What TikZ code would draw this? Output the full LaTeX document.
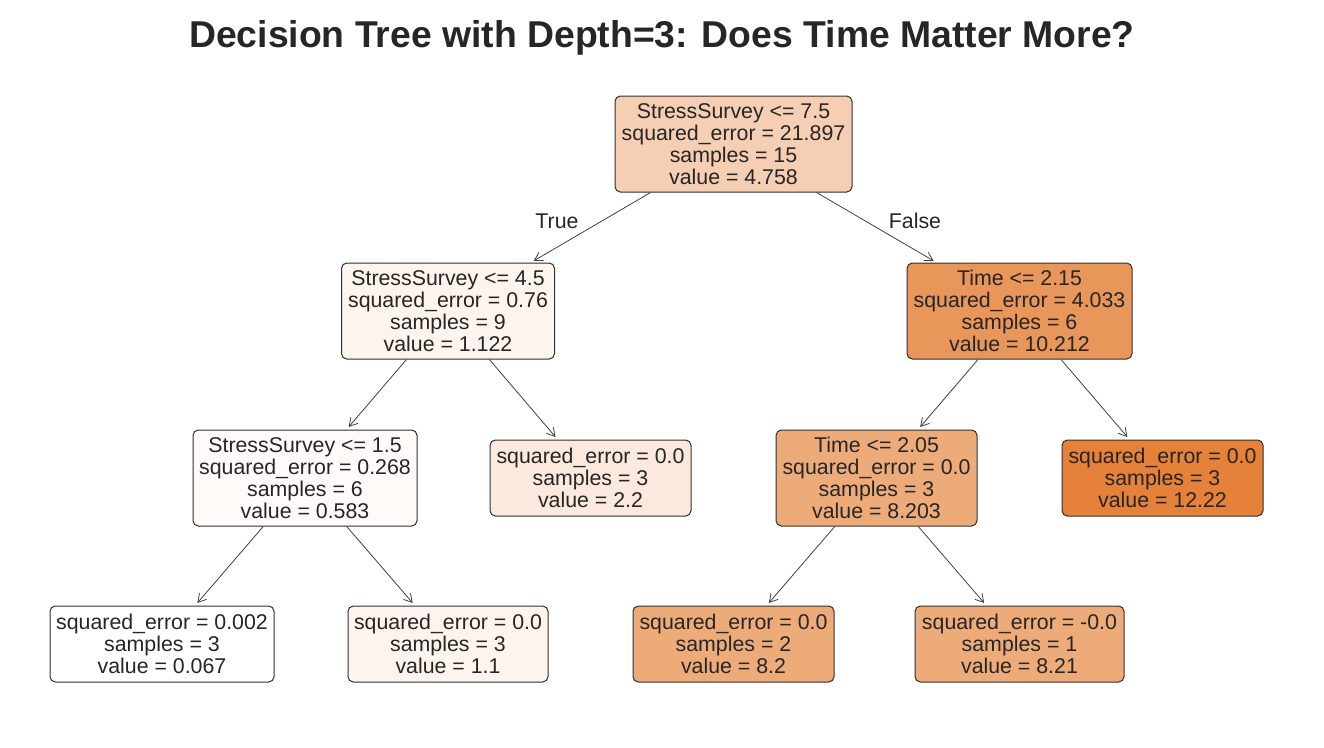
\documentclass[tikz,border=0pt]{standalone}
\usepackage{fontspec}
\setmainfont{Liberation Sans}
\usetikzlibrary{arrows.meta}
\definecolor{txt}{HTML}{262626}
\definecolor{bord}{HTML}{303030}
\definecolor{edgec}{HTML}{404040}
\definecolor{cRoot}{RGB}{245,206,179}
\definecolor{cA}{RGB}{253,244,238}
\definecolor{cB}{RGB}{233,150,90}
\definecolor{cC}{RGB}{254,250,247}
\definecolor{cD}{RGB}{250,233,220}
\definecolor{cE}{RGB}{238,171,122}
\definecolor{cF}{RGB}{229,129,57}
\definecolor{cG}{RGB}{255,255,255}
\tikzset{
  treenode/.style={draw=bord, line width=0.75pt, rounded corners=4pt, align=center,
    text=txt, font=\fontsize{16pt}{16.5pt}\selectfont, inner xsep=0pt, inner ysep=0pt},
  inner4/.style={treenode, minimum height=72pt},
  leaf3/.style={treenode, minimum height=57pt},
  edge/.style={draw=edgec, line width=0.6pt, -{Straight Barb[length=6pt,width=7pt,line width=0.6pt]}, shorten >=2.5pt},
  lbl/.style={text=txt, font=\fontsize{16pt}{16.5pt}\selectfont}
}
\begin{document}
\begin{tikzpicture}[x=0.75pt,y=-0.75pt]
\useasboundingbox (0,0) rectangle (1324,747);
\node[anchor=base, text=txt, font=\fontsize{28pt}{30pt}\selectfont\bfseries] (title) at (662,47.3) {Decision Tree with Depth=3: Does Time Matter More?};

\node[inner4, fill=cRoot, minimum width=177.75pt] (root) at (733.5,144) {StressSurvey <= 7.5\\squared\_error = 21.897\\samples = 15\\value = 4.758};
\node[inner4, fill=cA, minimum width=159.75pt] (n1) at (448,311) {StressSurvey <= 4.5\\squared\_error = 0.76\\samples = 9\\value = 1.122};
\node[inner4, fill=cB, minimum width=168.75pt] (n2) at (1019.5,311) {Time <= 2.15\\squared\_error = 4.033\\samples = 6\\value = 10.212};
\node[inner4, fill=cC, minimum width=168pt] (n3) at (305,478) {StressSurvey <= 1.5\\squared\_error = 0.268\\samples = 6\\value = 0.583};
\node[leaf3, fill=cD, minimum width=150.75pt] (n4) at (590.5,478) {squared\_error = 0.0\\samples = 3\\value = 2.2};
\node[inner4, fill=cE, minimum width=150.75pt] (n5) at (876.5,478) {Time <= 2.05\\squared\_error = 0.0\\samples = 3\\value = 8.203};
\node[leaf3, fill=cF, minimum width=150.75pt] (n6) at (1162.5,478) {squared\_error = 0.0\\samples = 3\\value = 12.22};
\node[leaf3, fill=cG, minimum width=168pt] (n7) at (162,644) {squared\_error = 0.002\\samples = 3\\value = 0.067};
\node[leaf3, fill=cA, minimum width=150pt] (n8) at (448,644) {squared\_error = 0.0\\samples = 3\\value = 1.1};
\node[leaf3, fill=cE, minimum width=150.75pt] (n9) at (733.5,644) {squared\_error = 0.0\\samples = 2\\value = 8.2};
\node[leaf3, fill=cE, minimum width=156.75pt] (n10) at (1019.5,644) {squared\_error = -0.0\\samples = 1\\value = 8.21};

\draw[edge] (root) -- (n1);
\draw[edge] (root) -- (n2);
\draw[edge] (n1) -- (n3);
\draw[edge] (n1) -- (n4);
\draw[edge] (n2) -- (n5);
\draw[edge] (n2) -- (n6);
\draw[edge] (n3) -- (n7);
\draw[edge] (n3) -- (n8);
\draw[edge] (n5) -- (n9);
\draw[edge] (n5) -- (n10);

\node[lbl] (ltrue) at (557,221) {True};
\node[lbl] (lfalse) at (915,221) {False};
\end{tikzpicture}
\end{document}
